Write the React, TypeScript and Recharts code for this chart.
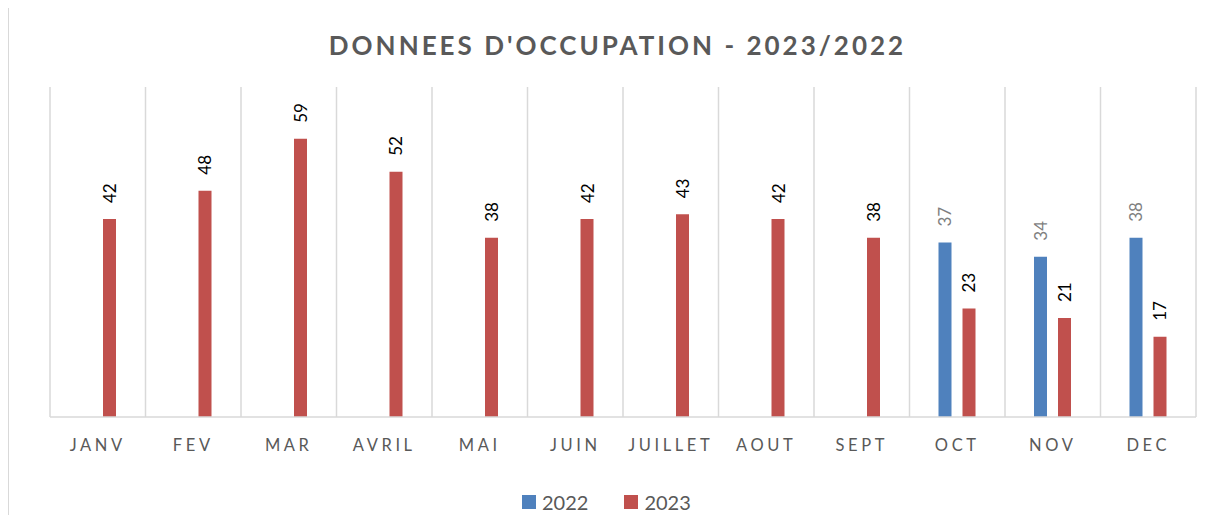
import React from 'react';
import { BarChart, Bar, XAxis, YAxis, CartesianGrid, Legend, LabelList } from 'recharts';

const months = ['JANV', 'FEV', 'MAR', 'AVRIL', 'MAI', 'JUIN', 'JUILLET', 'AOUT', 'SEPT', 'OCT', 'NOV', 'DEC'];
const values2022: (number | null)[] = [null, null, null, null, null, null, null, null, null, 37, 34, 38];
const values2023: number[] = [42, 48, 59, 52, 38, 42, 43, 42, 38, 23, 21, 17];
const seriesNames = ['2022', '2023'];
const seriesColors = ['#4f81bd', '#c0504d'];

const data = months.map((m, i) => ({ month: m, y2022: values2022[i], y2023: values2023[i] }));

const FONT = 'Lato, "Open Sans", sans-serif';

const makeLabel = (color: string) => (props: any) => {
  const { x, y, width, value } = props;
  if (value === null || value === undefined) return null;
  const cx = x + width / 2;
  const ty = y - 16;
  return (
    <text
      x={cx}
      y={ty}
      transform={`rotate(-90 ${cx} ${ty})`}
      textAnchor="start"
      dominantBaseline="central"
      fill={color}
      fontSize={17}
      fontFamily={FONT}
    >
      {value}
    </text>
  );
};

const XTick = (props: any) => {
  const { x, y, payload } = props;
  return (
    <text x={x} y={y} textAnchor="middle" fill="#595959" fontSize={16.5} fontFamily={FONT} letterSpacing={3.6} dy="0.71em">
      {payload.value}
    </text>
  );
};

const LegendContent = () => (
  <div style={{ display: 'flex', justifyContent: 'flex-start', paddingLeft: 472, paddingTop: 5, fontFamily: FONT, fontSize: 20, color: '#595959' }}>
    {seriesNames.map((n, i) => (
      <div key={n} style={{ display: 'flex', alignItems: 'center', marginRight: i === 0 ? 36 : 0 }}>
        <span style={{ width: 14, height: 14, background: seriesColors[i], display: 'inline-block', marginRight: 6 }} />
        <span>{n}</span>
      </div>
    ))}
  </div>
);

export default function App() {
  return (
    <div style={{ position: 'relative', width: 1227, height: 523, margin: -8, overflow: 'hidden', background: '#fff' }}>
      <div style={{ position: 'absolute', left: 7, top: 6, width: 1217, height: 600, border: '2px solid #d9d9d9' }} />
      <div
        style={{
          position: 'absolute',
          left: 0,
          top: 29,
          width: 1227,
          textAlign: 'center',
          fontFamily: FONT,
          fontWeight: 700,
          fontSize: 26,
          letterSpacing: 3,
          color: '#595959',
          paddingLeft: 4,
        }}
      >
        DONNEES D'OCCUPATION - 2023/2022
      </div>
      <div style={{ position: 'absolute', left: 0, top: 0 }}>
        <BarChart
          width={1227}
          height={523}
          data={data}
          margin={{ top: 87, right: 31, left: 50, bottom: 8 }}
          barSize={13}
          barGap={11}
        >
          <CartesianGrid
            horizontal={false}
            stroke="#d9d9d9"
            strokeWidth={1.5}
            verticalCoordinatesGenerator={({ offset }: any) =>
              Array.from({ length: months.length + 1 }, (_, i) => offset.left + (i * offset.width) / months.length)
            }
          />
          <XAxis
            dataKey="month"
            tick={<XTick />}
            tickLine={false}
            axisLine={{ stroke: '#d9d9d9', strokeWidth: 1.5 }}
            tickSize={0}
            tickMargin={22}
            height={68}
            interval={0}
          />
          <YAxis hide domain={[0, 70]} />
          <Legend verticalAlign="bottom" height={30} content={<LegendContent />} />
          <Bar dataKey="y2022" name="2022" fill={seriesColors[0]} isAnimationActive={false}>
            <LabelList dataKey="y2022" content={makeLabel('#7f7f7f')} />
          </Bar>
          <Bar dataKey="y2023" name="2023" fill={seriesColors[1]} isAnimationActive={false}>
            <LabelList dataKey="y2023" content={makeLabel('#000000')} />
          </Bar>
        </BarChart>
      </div>
    </div>
  );
}
